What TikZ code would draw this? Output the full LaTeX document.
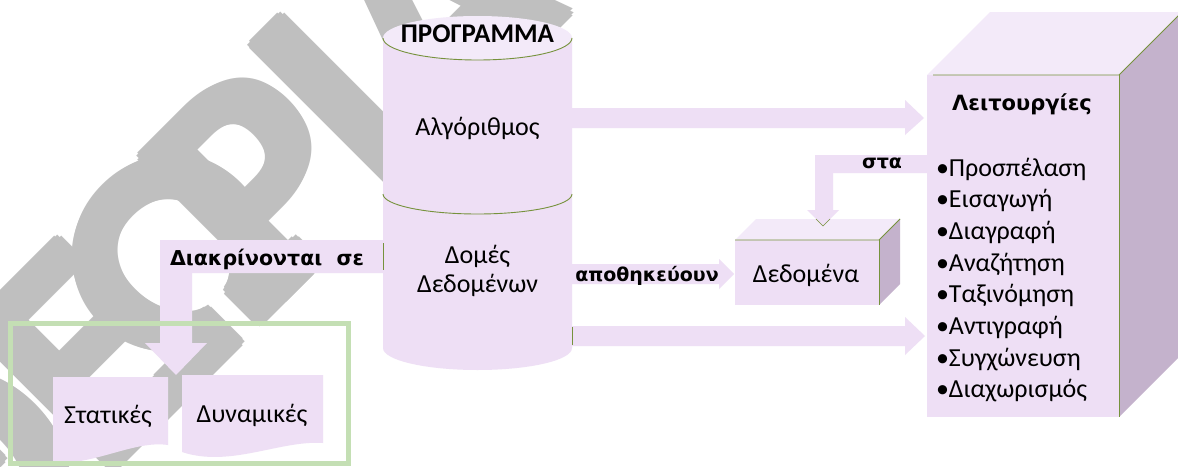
\documentclass[tikz,border=0pt]{standalone}
\usepackage{fontspec}
\setmainfont{Carlito}
\newfontfamily\dvs{DejaVu Sans}
\definecolor{pk}{RGB}{238,223,245}
\definecolor{pktop}{RGB}{243,234,249}
\definecolor{pkside}{RGB}{196,178,204}
\definecolor{olive}{RGB}{118,146,60}
\definecolor{gbox}{RGB}{196,223,180}
\definecolor{wmgrey}{RGB}{191,191,191}
\begin{document}
\begin{tikzpicture}[x=1pt,y=-1pt,
  lbl/.style={inner sep=0pt, outer sep=0pt, font=\fontsize{26}{30}\selectfont},
  blbl/.style={inner sep=0pt, outer sep=0pt, font=\dvs\bfseries\fontsize{20.5}{24}\selectfont},
  wmark/.style={rotate=45, inner sep=0pt, outer sep=0pt, text=wmgrey, font=\bfseries\fontsize{310}{310}\selectfont},
  edge/.style={draw=olive, line width=0.9pt}]
\useasboundingbox (0,0) rectangle (1178,466);
\clip (0,0) rectangle (1178,466);
\fill[white] (0,0) rectangle (1178,466);

% watermark: letters placed one by one along a 45 degree baseline, thickened by small offsets
\coordinate (wmbase) at (409,173);
\foreach \ch/\s [count=\j] in {Θ/-530,Ε/-360,Ω/-225,Ρ/-112,Ι/0,Α/133} {
  \foreach \dx/\dy [count=\k] in {-5/0,5/0,0/-5,0/5,-3.5/-3.5,3.5/3.5,-3.5/3.5,3.5/-3.5,0/0} {
    \node[wmark, anchor=base] (wm\j-\k) at ([shift={({0.7071*\s+\dx},{-0.7071*\s+\dy})}]wmbase) {\ch};
  }
}

% cylinder ΠΡΟΓΡΑΜΜΑ
\fill[pk] (383,38) -- (383,348) arc[start angle=180, end angle=360, x radius=94.5pt, y radius=22pt] -- (572,38) -- cycle;
\fill[pktop] (477.5,38) ellipse [x radius=94.5pt, y radius=22pt];
\draw[edge] (383,38) arc[start angle=180, end angle=360, x radius=94.5pt, y radius=22pt];
\draw[edge] (383,194) arc[start angle=180, end angle=360, x radius=94.5pt, y radius=20pt];
\coordinate (cylR1) at (572,118);
\coordinate (cylR2) at (572,274);
\coordinate (cylR3) at (572,336);
\coordinate (cylL) at (383,256);
\node[inner sep=0pt, anchor=base, font=\bfseries\fontsize{27}{31}\selectfont] (prog) at (477.5,42) {ΠΡΟΓΡΑΜΜΑ};
\node[lbl, anchor=base] (alg) at (477.5,135) {Αλγόριθμος};
\node[lbl, anchor=base] (dom1) at (477.5,263) {Δομές};
\node[lbl, anchor=base] (dom2) at (477.5,292) {Δεδομένων};

% Λειτουργίες cuboid
\fill[pk] (927,75) rectangle (1119,417);
\fill[pktop] (927,75) -- (990,12) -- (1182,12) -- (1119,75) -- cycle;
\fill[pkside] (1119,75) -- (1182,12) -- (1182,354) -- (1119,417) -- cycle;
\draw[edge] (933,75) -- (1119,75) -- (1182,12);
\draw[edge] (1119,75) -- (1119,417);
\coordinate (opsL1) at (927,118);
\coordinate (opsL2) at (927,164);
\coordinate (opsL3) at (927,336);
\node[blbl, anchor=base, font=\dvs\bfseries\fontsize{21}{25}\selectfont] (ops) at (1022,110) {Λειτουργίες};
\foreach \t [count=\i] in {Προσπέλαση,Εισαγωγή,Διαγραφή,Αναζήτηση,Ταξινόμηση,Αντιγραφή,Συγχώνευση,Διαχωρισμός}
  \node[lbl, anchor=base west] (item\i) at (936,{176+31.7*(\i-1)}) {•\t};

% Δεδομένα cuboid
\fill[pk] (735,240) rectangle (879,305);
\fill[pktop] (735,240) -- (756,219) -- (900,219) -- (879,240) -- cycle;
\fill[pkside] (879,240) -- (900,219) -- (900,284) -- (879,305) -- cycle;
\draw[edge] (735,240) -- (879,240) -- (900,219);
\draw[edge] (879,240) -- (879,305);
\coordinate (dataL) at (735,274);
\coordinate (dataT) at (823,226);
\node[lbl, anchor=base] (data) at (806,282) {Δεδομένα};

% block arrows
\fill[pk] (cylR1 |- 0,108) -- (905,108) -- (905,100) -- (opsL1 -| 924,0) -- (905,135) -- (905,128) -- (cylR1 |- 0,128) -- cycle;
\fill[pk] (cylR3 |- 0,326) -- (905,326) -- (905,317) -- (opsL3 -| 925,0) -- (905,355) -- (905,346) -- (cylR3 |- 0,346) -- cycle;
\draw[edge] (572,327) -- (572,345);
\fill[pk] (cylR2 |- 0,264) -- (719,264) -- (719,259) -- (dataL -| 734,0) -- (719,289) -- (719,284) -- (cylR2 |- 0,284) -- cycle;
\node[blbl, anchor=base, font=\dvs\bfseries\fontsize{19}{23}\selectfont] (stores) at (647,281) {αποθηκεύουν};
\fill[pk] (opsL2 |- 0,155) -- (815,155) -- (815,210) -- (807,210) -- (dataT) -- (839,210) -- (833,210) -- (833,173) -- (opsL2 |- 0,173) -- cycle;
\draw[olive, line width=0.6pt] (816,219) -- (dataT) -- (830,219);
\node[blbl, anchor=base, font=\dvs\bfseries\fontsize{19}{23}\selectfont] (sta) at (882,168) {στα};

% Διακρίνονται σε arrow
\coordinate (splitT) at (176,375);
\fill[pk] (cylL |- 0,240) -- (160,240) -- (160,343) -- (145,343) -- (splitT) -- (207,343) -- (192,343) -- (192,273) -- (cylL |- 0,273) -- cycle;
\draw[edge] (383,243) -- (383,270);
\node[blbl, anchor=base west] (split) at (170,265) {Διακρίνονται\ \ σε};

% document shapes
\fill[pk] (53,377) -- (168,377) -- (168,445) .. controls (135,440) and (95,465) .. (53,463) -- cycle;
\fill[pk] (182,375) -- (323,375) -- (323,443) .. controls (280,440) and (230,468) .. (182,452) -- cycle;
\node[lbl, anchor=base] (stat) at (108,423) {Στατικές};
\node[lbl, anchor=base] (dyn) at (252,422) {Δυναμικές};

% green frame
\draw[gbox, line width=5pt] (10,323) rectangle (348,463);
\end{tikzpicture}
\end{document}
